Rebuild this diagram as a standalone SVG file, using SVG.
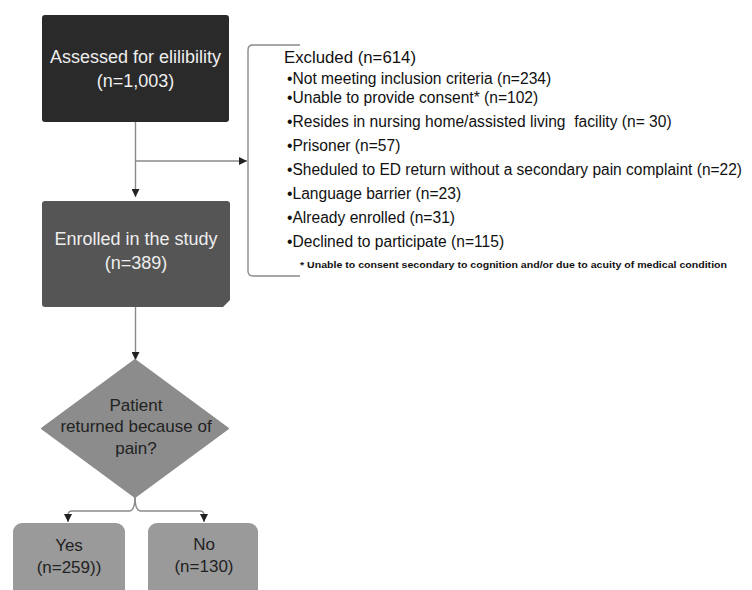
<svg xmlns="http://www.w3.org/2000/svg" width="752" height="590" viewBox="0 0 752 590">
<defs>
<style>
.t{font-family:"Liberation Sans",Arial,sans-serif}
.box{font-size:18px;fill:#eeeeee;text-anchor:middle}
.dk{font-size:17px;fill:#222;text-anchor:middle}
.ex{font-size:15.6px;fill:#111}
.fn{font-size:9.5px;fill:#111;font-weight:bold}
.ln{fill:none;stroke:#8a8a8a;stroke-width:1.4}
</style>
<marker id="ah" viewBox="0 0 10 10" refX="10" refY="5" markerWidth="8" markerHeight="8" markerUnits="userSpaceOnUse" orient="auto">
<path d="M0,0 L10,5 L0,10 z" fill="#222"/>
</marker>
</defs>
<rect width="752" height="590" fill="#ffffff"/>
<g id="connectors">
<path class="ln" d="M135.5,122 V197" marker-end="url(#ah)"/>
<path class="ln" d="M135.5,161 H247" marker-end="url(#ah)"/>
<path class="ln" d="M135.5,307 V360" marker-end="url(#ah)"/>
<path class="ln" d="M135,497 Q135,511 129,511 H72 Q68,511 68,515 V522" marker-end="url(#ah)"/>
<path class="ln" d="M135,497 Q135,511 141,511 H200 Q204,511 204,515 V522" marker-end="url(#ah)"/>
</g>
<g id="assessed">
<rect x="42" y="15" width="187" height="107" rx="3" fill="#2a2a2a"/>
<text class="t box" x="135.5" y="63">Assessed for elilibility</text>
<text class="t box" x="135.5" y="87">(n=1,003)</text>
</g>
<g id="excluded">
<path class="ln" d="M300,45 H253 Q248,45 248,50 V271 Q248,276 253,276 H300"/>
<text class="t ex" x="284" y="63" style="font-size:16.8px">Excluded (n=614)</text>
<text class="t ex" x="287" y="84">•Not meeting inclusion criteria (n=234)</text>
<text class="t ex" x="287" y="103">•Unable to provide consent* (n=102)</text>
<text class="t ex" x="287" y="127" style="white-space:pre">•Resides in nursing home/assisted living  facility (n= 30)</text>
<text class="t ex" x="287" y="151">•Prisoner (n=57)</text>
<text class="t ex" x="287" y="175" textLength="455" lengthAdjust="spacingAndGlyphs">•Sheduled to ED return without a secondary pain complaint (n=22)</text>
<text class="t ex" x="287" y="199">•Language barrier (n=23)</text>
<text class="t ex" x="287" y="223">•Already enrolled (n=31)</text>
<text class="t ex" x="287" y="247">•Declined to participate (n=115)</text>
<text class="t fn" x="300" y="268" textLength="427" lengthAdjust="spacingAndGlyphs">* Unable to consent secondary to cognition and/or due to acuity of medical condition</text>
</g>
<g id="enrolled">
<path d="M45,201 H227 Q230,201 230,204 V300 L223,307 H45 Q42,307 42,304 V204 Q42,201 45,201 Z" fill="#555555"/>
<text class="t box" x="136" y="245">Enrolled in the study</text>
<text class="t box" x="136" y="269">(n=389)</text>
</g>
<g id="decision">
<path d="M135,360 L228,428.5 L135,497 L42,428.5 Z" fill="#8c8c8c" stroke="#8c8c8c" stroke-linejoin="round" stroke-width="2"/>
<text class="t dk" x="136" y="411">Patient</text>
<text class="t dk" x="136" y="432">returned because of</text>
<text class="t dk" x="136" y="454">pain?</text>
</g>
<g id="yes">
<rect x="13" y="523" width="112" height="80" rx="9" fill="#9a9a9a"/>
<text class="t dk" x="69" y="551">Yes</text>
<text class="t dk" x="69" y="573">(n=259))</text>
</g>
<g id="no">
<rect x="148" y="523" width="110" height="80" rx="9" fill="#9a9a9a"/>
<text class="t dk" x="204" y="550">No</text>
<text class="t dk" x="204" y="572">(n=130)</text>
</g>
</svg>
